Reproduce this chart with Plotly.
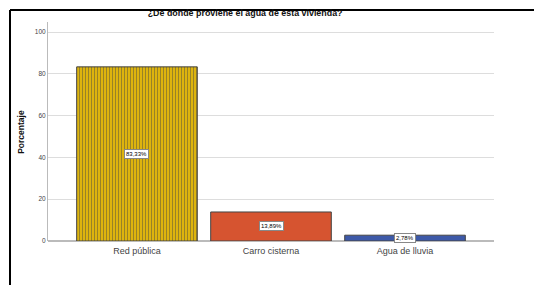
import plotly.graph_objects as go

categories = ["Red pública", "Carro cisterna", "Agua de lluvia"]
values = [83.33, 13.89, 2.78]
labels = ["83,33%", "13,89%", "2,78%"]
colors = ["#DDB40E", "#D65430", "#3D59A8"]
pattern_fg = ["#C9A30C", "#D65430", "#3D59A8"]
yticks = [0, 20, 40, 60, 80, 100]

fig = go.Figure()
fig.add_trace(go.Bar(
    x=categories, y=values, width=0.9,
    marker=dict(color=colors, line=dict(color="#444444", width=1),
                pattern=dict(shape=["|", "", ""], fgcolor=pattern_fg, size=3, solidity=0.3)),
    hoverinfo="skip",
))

for c, v, t in zip(categories, values, labels):
    fig.add_annotation(x=c, y=v / 2, text=t, showarrow=False,
                       font=dict(family="Arial, Liberation Sans", size=6, color="#000"),
                       bgcolor="white", bordercolor="#888", borderwidth=1, borderpad=1)

# y-axis title as annotation (exact placement)
fig.add_annotation(xref="paper", yref="paper", x=-0.062, y=0.5, text="<b>Porcentaje</b>",
                   textangle=-90, showarrow=False, xanchor="center", yanchor="middle",
                   font=dict(family="Arial, Liberation Sans", size=8.5, color="#111"))

fig.update_layout(
    width=534, height=277,
    margin=dict(l=40, r=48, t=14, b=44, autoexpand=False),
    paper_bgcolor="white", plot_bgcolor="white",
    showlegend=False,
    font=dict(family="Arial, Liberation Sans"),
    title=dict(text="<b>¿De donde proviene el agua de esta vivienda?</b>",
               x=0.444, xanchor="center", y=0.981, yanchor="middle",
               font=dict(size=8.9, color="#111")),
    xaxis=dict(range=[-0.664, 2.664], showgrid=False, showline=False, ticks="",
               tickfont=dict(size=9, color="#444"), zeroline=False, automargin=False,
               ticklabelstandoff=3),
    yaxis=dict(range=[0, 104.8], tickvals=yticks, showgrid=True, gridcolor="#DDDDDD",
               gridwidth=1, showline=True, linecolor="#BBBBBB", linewidth=1,
               zeroline=True, zerolinecolor="#BBBBBB", ticks="", automargin=False,
               tickfont=dict(size=6.5, color="#444")),
    bargap=0.1,
)

# outer black frame (left and top)
fig.add_shape(type="line", xref="paper", yref="paper", x0=-0.0852, x1=1.2, y0=1.0548, y1=1.0548,
              line=dict(color="black", width=2))
fig.add_shape(type="line", xref="paper", yref="paper", x0=-0.0852, x1=-0.0852, y0=1.0548, y1=-0.25,
              line=dict(color="black", width=2))

fig.write_html("out.html")
